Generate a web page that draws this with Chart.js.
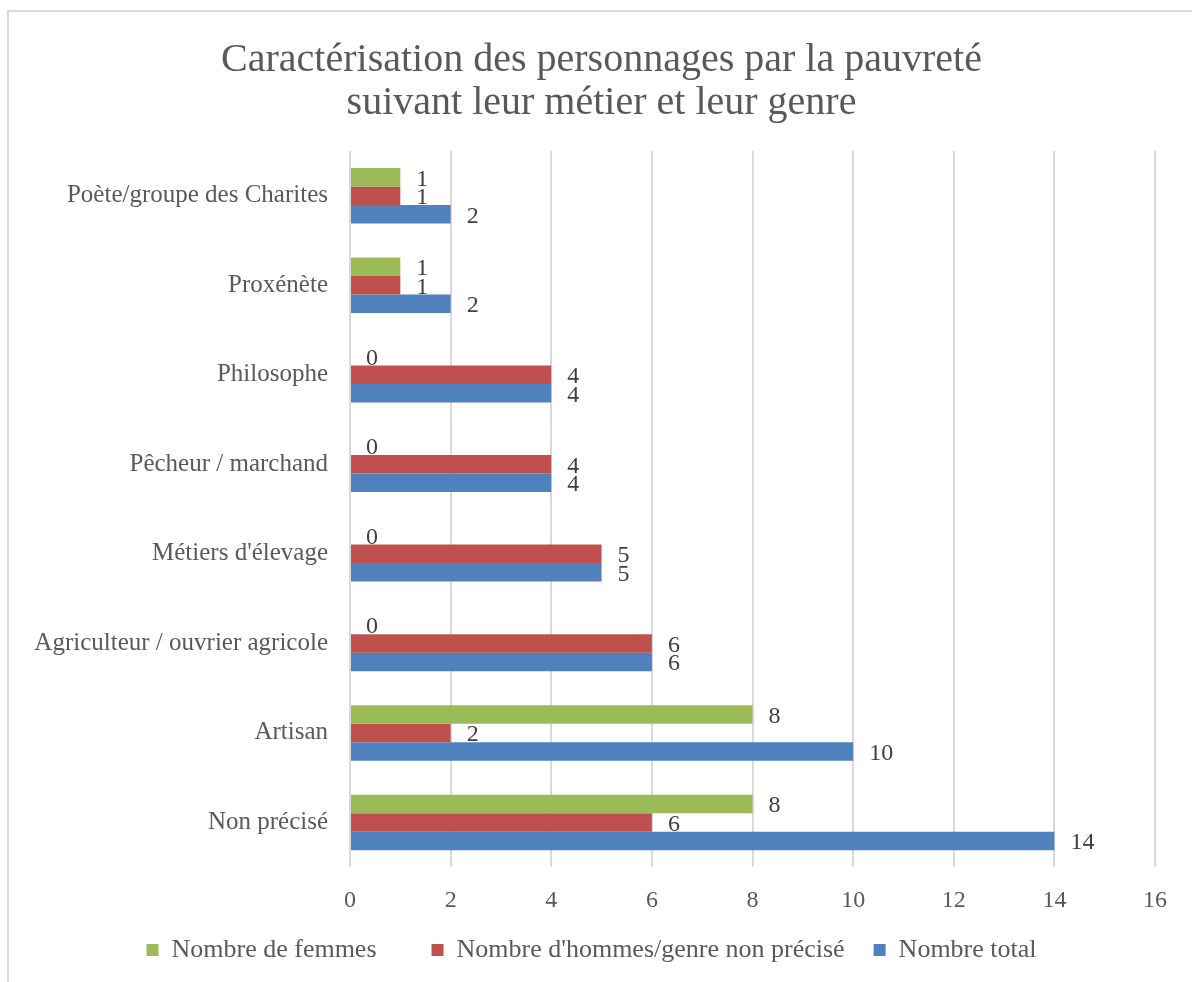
<!DOCTYPE html>
<html>
<head>
<meta charset="utf-8">
<script src="https://cdn.jsdelivr.net/npm/chart.js@4.4.1/dist/chart.umd.min.js"></script>
<style>
  html, body { margin: 0; padding: 0; background: #fff; }
  #wrap { position: absolute; left: 0; top: 0; width: 1192px; height: 982px; }
</style>
</head>
<body>
<div id="wrap"><canvas id="c" width="1192" height="982"></canvas></div>
<script>
const categories = [
  "Poète/groupe des Charites",
  "Proxénète",
  "Philosophe",
  "Pêcheur / marchand",
  "Métiers d'élevage",
  "Agriculteur / ouvrier agricole",
  "Artisan",
  "Non précisé"
];
const femmes = [1, 1, 0, 0, 0, 0, 8, 8];
const hommes = [1, 1, 4, 4, 5, 6, 2, 6];
const total  = [2, 2, 4, 4, 5, 6, 10, 14];
const seriesNames = ["Nombre de femmes", "Nombre d'hommes/genre non précisé", "Nombre total"];
const titleLines = ["Caractérisation des personnages par la pauvreté", "suivant leur métier et leur genre"];

const FONT = "'Liberation Serif', 'DejaVu Serif', serif";

const frame = {
  id: 'frame',
  beforeDraw(chart) {
    const ctx = chart.ctx;
    ctx.save();
    ctx.fillStyle = '#ffffff';
    ctx.fillRect(0, 0, chart.width, chart.height);
    ctx.strokeStyle = '#d9d9d9';
    ctx.lineWidth = 2;
    ctx.beginPath();
    ctx.moveTo(8, chart.height);
    ctx.lineTo(8, 11);
    ctx.lineTo(chart.width, 11);
    ctx.stroke();
    ctx.restore();
  }
};

const valueLabels = {
  id: 'valueLabels',
  afterDatasetsDraw(chart) {
    const ctx = chart.ctx;
    ctx.save();
    ctx.font = "24px " + FONT;
    ctx.fillStyle = '#404040';
    ctx.textAlign = 'left';
    ctx.textBaseline = 'middle';
    chart.data.datasets.forEach((ds, i) => {
      const meta = chart.getDatasetMeta(i);
      meta.data.forEach((bar, j) => {
        const v = ds.data[j];
        ctx.fillText(String(v), bar.x + 16, bar.y + 2);
      });
    });
    ctx.restore();
  }
};

const legendGaps = [8, 4, 0];

new Chart(document.getElementById('c'), {
  type: 'bar',
  data: {
    labels: categories,
    datasets: [
      { label: seriesNames[0], data: femmes, backgroundColor: '#9bbb59', borderWidth: 0 },
      { label: seriesNames[1], data: hommes, backgroundColor: '#c0504d', borderWidth: 0 },
      { label: seriesNames[2], data: total,  backgroundColor: '#4f81bd', borderWidth: 0 }
    ]
  },
  options: {
    indexAxis: 'y',
    responsive: false,
    animation: false,
    devicePixelRatio: 1,
    categoryPercentage: 0.62,
    barPercentage: 1.0,
    layout: { padding: { left: 28, right: 37, top: 14, bottom: 9 } },
    plugins: {
      title: {
        display: true,
        text: titleLines.map(t => '  ' + t),
        color: '#595959',
        font: { family: FONT, size: 40, weight: 'normal', lineHeight: 1.075 },
        padding: { top: 25, bottom: 26 }
      },
      legend: {
        position: 'bottom',
        labels: {
          color: '#595959',
          font: { family: FONT, size: 26 },
          boxWidth: 12,
          boxHeight: 12,
          padding: 3,
          generateLabels(chart) {
            const items = Chart.defaults.plugins.legend.labels.generateLabels(chart);
            items.forEach((it, i) => { it.text = it.text + ' '.repeat(legendGaps[i] || 0); });
            return items;
          }
        }
      },
      tooltip: { enabled: false }
    },
    scales: {
      x: {
        min: 0, max: 16,
        ticks: { stepSize: 2, color: '#595959', font: { family: FONT, size: 24 }, padding: 19 },
        grid: { color: '#d9d9d9', lineWidth: 2, drawTicks: false },
        border: { display: false }
      },
      y: {
        afterFit(scale) { scale.width = 322; },
        ticks: { color: '#595959', font: { family: FONT, size: 25 }, padding: 22 },
        grid: { display: false, drawTicks: false },
        border: { display: false }
      }
    }
  },
  plugins: [frame, valueLabels]
});
</script>
</body>
</html>
